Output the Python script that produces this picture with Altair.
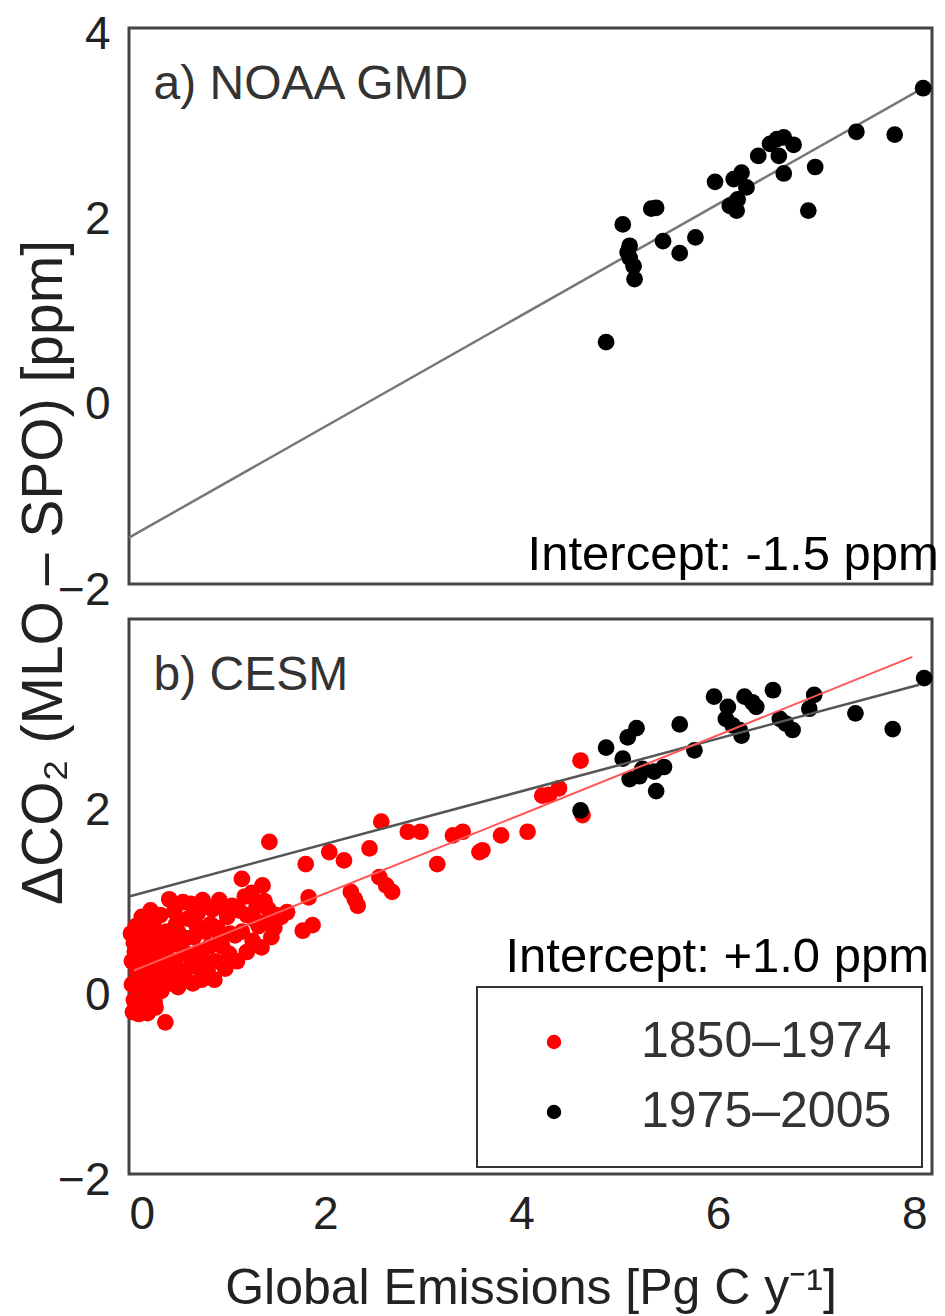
import altair as alt
import pandas as pd

# ---------------- data ----------------
# a) NOAA GMD, 1975-2005
noaa_x = [4.86, 5.03, 5.10, 5.10, 5.14, 5.15, 5.32, 5.37, 5.44, 5.61, 5.77, 5.97,
          6.12, 6.19, 6.16, 6.24, 6.29, 6.41, 6.53, 6.60, 6.67, 6.77, 6.62, 6.67,
          6.99, 6.92, 7.41, 7.80, 8.09, 6.20, 5.08]
noaa_y = [0.61, 1.88, 1.65, 1.52, 1.43, 1.29, 2.05, 2.06, 1.70, 1.57, 1.74, 2.34,
          2.08, 2.03, 2.37, 2.44, 2.28, 2.62, 2.75, 2.80, 2.82, 2.74, 2.62, 2.43,
          2.50, 2.03, 2.88, 2.85, 3.35, 2.15, 1.58]
noaa_fit_x = [0.0, 8.10]
noaa_fit_y = [-1.50, 3.36]

# b) CESM, 1850-1974 (red)
cesm_early_x = [
    # dense cloud near zero emissions
    0.03, 0.03, 0.05, 0.05, 0.07, 0.08, 0.08, 0.10, 0.11, 0.12, 0.13, 0.14, 0.15,
    0.16, 0.18, 0.18, 0.20, 0.21, 0.22, 0.23, 0.25, 0.26, 0.27, 0.28, 0.30, 0.31,
    0.33, 0.34, 0.36, 0.38, 0.40, 0.42, 0.44, 0.02, 0.10, 0.19,
    0.41, 0.46, 0.50, 0.47, 0.55, 0.56, 0.60, 0.53, 0.58, 0.63, 0.50,
    0.66, 0.68, 0.70, 0.72, 0.75, 0.78, 0.80, 0.82, 0.85, 0.88, 0.90, 0.92, 0.95,
    0.98, 1.00, 1.02, 1.05, 1.08, 1.10, 0.65, 0.74,
    1.15, 1.36, 1.25, 1.20, 1.30, 1.40, 1.45, 1.35, 1.26, 1.15, 1.42, 1.48, 1.20, 1.32,
    0.06, 0.09, 0.12, 0.17, 0.24, 0.29, 0.35, 0.39, 0.43, 0.48, 0.52, 0.57, 0.62,
    0.69, 0.77, 0.83, 0.87, 0.93, 0.97, 1.03, 1.12, 1.18, 1.28, 1.38, 1.50, 0.16,
    0.22, 0.32, 0.04, 0.27,
    # spread-out points
    1.43, 1.80, 2.04, 2.19, 2.45, 2.57, 2.84, 2.97, 3.14, 3.30, 3.40, 3.57,
    1.83, 1.61, 1.77, 1.87, 2.26, 2.33, 2.55, 2.68, 0.37, 4.60, 4.21, 4.38,
    3.79, 4.06, 3.60, 4.62, 4.28, 1.55, 2.30, 2.62]
cesm_early_y = [
    0.05, 0.30, -0.12, 0.50, 0.68, 0.18, -0.22, 0.38, 0.58, 0.00, 0.78, 0.22, -0.18,
    0.46, 0.64, 0.06, 0.32, -0.08, 0.52, 0.16, 0.72, -0.14, 0.40, 0.08, 0.58, 0.26,
    -0.02, 0.44, 0.14, 0.62, 0.30, 0.06, 0.48, 0.60, -0.27, -0.26,
    0.97, 0.84, 0.62, 0.30, 0.94, 0.40, 0.76, 0.14, 0.55, 0.92, 0.02,
    0.56, 0.24, 0.82, 0.40, 0.96, 0.62, 0.20, 0.46, 0.86, 0.30, 0.66, 0.96, 0.46,
    0.22, 0.78, 0.38, 0.90, 0.58, 0.30, 0.06, 0.10,
    1.19, 1.12, 1.04, 0.80, 0.90, 0.72, 0.56, 0.45, 0.52, 0.62, 0.86, 0.66, 0.40, 0.68,
    0.40, 0.05, 0.48, 0.30, 0.05, 0.48, 0.30, 0.45, 0.20, 0.70, 0.48, 0.20, 0.35,
    0.68, 0.30, 0.70, 0.10, 0.55, 0.88, 0.60, 0.85, 1.00, 0.75, 0.95, 0.80, 0.70,
    0.85, 0.80, -0.25, -0.20,
    1.59, 1.35, 1.48, 1.39, 1.52, 1.81, 1.70, 1.70, 1.35, 1.66, 1.70, 1.48,
    0.99, 0.83, 0.63, 0.69, 1.05, 0.90, 1.21, 1.05, -0.36, 2.47, 2.09, 2.17,
    1.66, 1.70, 1.50, 1.88, 2.10, 0.78, 0.97, 1.12]

# b) CESM, 1975-2005 (black)
cesm_late_x = [4.60, 4.86, 5.03, 5.08, 5.17, 5.10, 5.23, 5.35, 5.45, 5.37, 5.61, 5.76,
               5.96, 6.08, 6.15, 6.24, 6.27, 6.39, 6.56, 6.63, 6.69, 6.76, 6.93, 6.98,
               7.40, 7.78, 8.10, 6.22, 6.10, 5.20, 6.35]
cesm_late_y = [1.93, 2.61, 2.49, 2.72, 2.82, 2.27, 2.38, 2.35, 2.40, 2.14, 2.86, 2.58,
               3.16, 2.92, 2.85, 2.74, 3.16, 3.05, 3.23, 2.92, 2.87, 2.80, 3.03, 3.18,
               2.98, 2.81, 3.36, 2.80, 3.05, 2.30, 3.10]

cesm_late_fit_x = [0.0, 8.05]
cesm_late_fit_y = [1.00, 3.29]
cesm_early_fit_x = [0.05, 7.98]
cesm_early_fit_y = [0.20, 3.59]

periods = ["1850–1974", "1975–2005"]
period_colors = ["#ff0000", "#000000"]

panel_labels = ["a) NOAA GMD", "b) CESM"]
label_x = [0.25, 0.25]
label_y = [3.23, 3.23]
intercept_texts = ["Intercept: -1.5 ppm", "Intercept: +1.0 ppm"]
intercept_x = [8.25, 8.15]
intercept_y = [-1.85, 0.18]

x_ticks = [0, 2, 4, 6, 8]
y_ticks_top = [-2, 0, 2, 4]
y_ticks_bottom = [-2, 0, 2]

# ---------------- chart ----------------
FONT = "Liberation Sans, Arial, Helvetica, sans-serif"
W, H1, H2 = 803, 556, 555
xs = alt.Scale(domain=[0, 8.18], nice=False, zero=False)
ys = alt.Scale(domain=[-2, 4], nice=False, zero=False)

axis_common = dict(grid=False, domain=False, ticks=False, labelFont=FONT,
                   labelFontSize=46, labelColor="#222", titleFont=FONT,
                   titleColor="#222", titleFontWeight="normal", format="d")

y_axis_top = alt.Axis(values=y_ticks_top, labelPadding=19, labelOffset=6,
                      title="ΔCO₂ (MLO – SPO) [ppm]", titleFontSize=57,
                      titleAngle=270, titleX=-85, titleY=544, titleAlign="center",
                      titleBaseline="middle", **axis_common)
y_axis_bottom = alt.Axis(values=y_ticks_bottom, labelPadding=19, labelOffset=6,
                         title=None, **axis_common)
x_axis_bottom = alt.Axis(values=x_ticks, labelPadding=18, labelAngle=0,
                         title="Global Emissions [Pg C y⁻¹]", titleFontSize=50,
                         titlePadding=26, **axis_common)

# top panel
top_pts = pd.DataFrame({"x": noaa_x, "y": noaa_y})
top_fit = pd.DataFrame({"x": noaa_fit_x, "y": noaa_fit_y})
top_lbl = pd.DataFrame({"x": [label_x[0]], "y": [label_y[0]], "t": [panel_labels[0]]})
top_int = pd.DataFrame({"x": [intercept_x[0]], "y": [intercept_y[0]], "t": [intercept_texts[0]]})

t_line = alt.Chart(top_fit).mark_line(color="#777777", strokeWidth=2.5).encode(
    x=alt.X("x:Q", scale=xs, axis=None),
    y=alt.Y("y:Q", scale=ys, axis=y_axis_top))
t_pts = alt.Chart(top_pts).mark_circle(size=280, color="#000000", opacity=1).encode(
    x=alt.X("x:Q", scale=xs), y=alt.Y("y:Q", scale=ys))
t_lbl = alt.Chart(top_lbl).mark_text(align="left", baseline="alphabetic", font=FONT,
                                     fontSize=48, color="#333333").encode(
    x="x:Q", y="y:Q", text="t:N")
t_int = alt.Chart(top_int).mark_text(align="right", baseline="alphabetic", font=FONT,
                                     fontSize=49, color="#000000").encode(
    x="x:Q", y="y:Q", text="t:N")
top = alt.layer(t_line, t_pts, t_lbl, t_int).properties(width=W, height=H1)

# bottom panel
bot_pts = pd.DataFrame({
    "x": cesm_early_x + cesm_late_x,
    "y": cesm_early_y + cesm_late_y,
    "period": [periods[0]] * len(cesm_early_x) + [periods[1]] * len(cesm_late_x),
})
late_fit = pd.DataFrame({"x": cesm_late_fit_x, "y": cesm_late_fit_y})
early_fit = pd.DataFrame({"x": cesm_early_fit_x, "y": cesm_early_fit_y})
bot_lbl = pd.DataFrame({"x": [label_x[1]], "y": [label_y[1]], "t": [panel_labels[1]]})
bot_int = pd.DataFrame({"x": [intercept_x[1]], "y": [intercept_y[1]], "t": [intercept_texts[1]]})

b_pts = alt.Chart(bot_pts).mark_circle(size=280, opacity=1).encode(
    x=alt.X("x:Q", scale=xs, axis=x_axis_bottom),
    y=alt.Y("y:Q", scale=ys, axis=y_axis_bottom),
    color=alt.Color("period:N",
                    scale=alt.Scale(domain=periods, range=period_colors),
                    legend=alt.Legend(title=None, orient="none", legendX=348, legendY=368,
                                      strokeColor="#333333", padding=30,
                                      symbolType="circle", symbolSize=210,
                                      symbolStrokeWidth=0, symbolOffset=22,
                                      labelOffset=62, labelFont=FONT, labelFontSize=50,
                                      labelLimit=0, labelColor="#333333", rowPadding=20)),
    order=alt.Order("period:N", sort="ascending"))
b_late = alt.Chart(late_fit).mark_line(color="#555555", strokeWidth=2.5).encode(
    x=alt.X("x:Q", scale=xs), y=alt.Y("y:Q", scale=ys))
b_early = alt.Chart(early_fit).mark_line(color="#ff5555", strokeWidth=2).encode(
    x=alt.X("x:Q", scale=xs), y=alt.Y("y:Q", scale=ys))
b_lbl = alt.Chart(bot_lbl).mark_text(align="left", baseline="alphabetic", font=FONT,
                                     fontSize=48, color="#333333").encode(
    x="x:Q", y="y:Q", text="t:N")
b_int = alt.Chart(bot_int).mark_text(align="right", baseline="alphabetic", font=FONT,
                                     fontSize=49, color="#000000").encode(
    x="x:Q", y="y:Q", text="t:N")
bottom = alt.layer(b_pts, b_late, b_early, b_lbl, b_int).properties(width=W, height=H2)

chart = alt.vconcat(top, bottom, spacing=35, bounds="flush").resolve_scale(
    color="independent"
).properties(
    padding={"left": 13, "top": 9, "right": 0, "bottom": 0},
    background="white",
).configure_view(stroke="#444444", strokeWidth=3).configure_legend(strokeWidth=2)

chart.save("out.html", embed_options={"renderer": "svg", "actions": False})
